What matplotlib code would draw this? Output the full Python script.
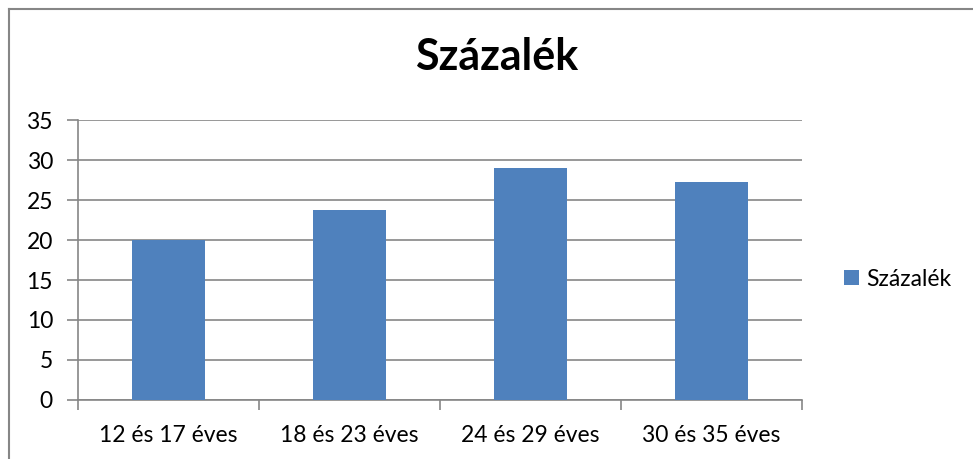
import matplotlib.pyplot as plt
from matplotlib.lines import Line2D

categories = ["12 és 17 éves", "18 és 23 éves", "24 és 29 éves", "30 és 35 éves"]
values = [20.0, 23.7, 29.0, 27.3]
series_name = "Százalék"
yticks = [0, 5, 10, 15, 20, 25, 30, 35]

plt.rcParams['font.family'] = ['Lato', 'DejaVu Sans']

W, H = 973, 459
fig = plt.figure(figsize=(W / 100, H / 100), dpi=100)

# axes box in pixels: left 78, right 802, top 120, bottom 400
ax = fig.add_axes([78 / W, 1 - 400 / H, (802 - 78) / W, (400 - 120) / H])

grid_col = '#868686'
fs = 16.5
bars = ax.bar(range(len(categories)), values, width=0.4, color='#4F81BD',
              zorder=3, label=series_name)

ax.set_xlim(-0.5, len(categories) - 0.5)
ax.set_ylim(0, 35)
ax.set_yticks(yticks)
ax.yaxis.grid(True, color=grid_col, linewidth=1.2, zorder=0)

for s in ['top', 'right']:
    ax.spines[s].set_visible(False)
for s in ['left', 'bottom']:
    ax.spines[s].set_color(grid_col)
    ax.spines[s].set_linewidth(1.2)

ax.set_xticks([i for i in range(len(categories))])
ax.set_xticklabels(categories, fontsize=fs)
ax.tick_params(axis='x', length=0, pad=18)
ax.set_xticks([i - 0.5 for i in range(len(categories) + 1)], minor=True)
ax.tick_params(axis='x', which='minor', length=7, color=grid_col, width=1.2)
ax.tick_params(axis='y', length=8, color=grid_col, width=1.2, labelsize=fs, pad=10)

fig.text(497 / W, 1 - 57 / H, "Százalék", ha='center', va='center',
         fontsize=31, fontweight='bold')

leg = ax.legend(loc='center left', bbox_to_anchor=(823 / W, 1 - 279 / H),
                bbox_transform=fig.transFigure, frameon=False, fontsize=fs,
                handlelength=0.65, handleheight=0.65, handletextpad=0.35)

# chart border (left and top)
fig.add_artist(Line2D([8.5 / W, 8.5 / W], [0, 1 - 8.5 / H], transform=fig.transFigure,
                      color=grid_col, linewidth=1.5))
fig.add_artist(Line2D([8.5 / W, 1], [1 - 8.5 / H, 1 - 8.5 / H], transform=fig.transFigure,
                      color=grid_col, linewidth=1.5))

fig.savefig('out.png', dpi=100)
